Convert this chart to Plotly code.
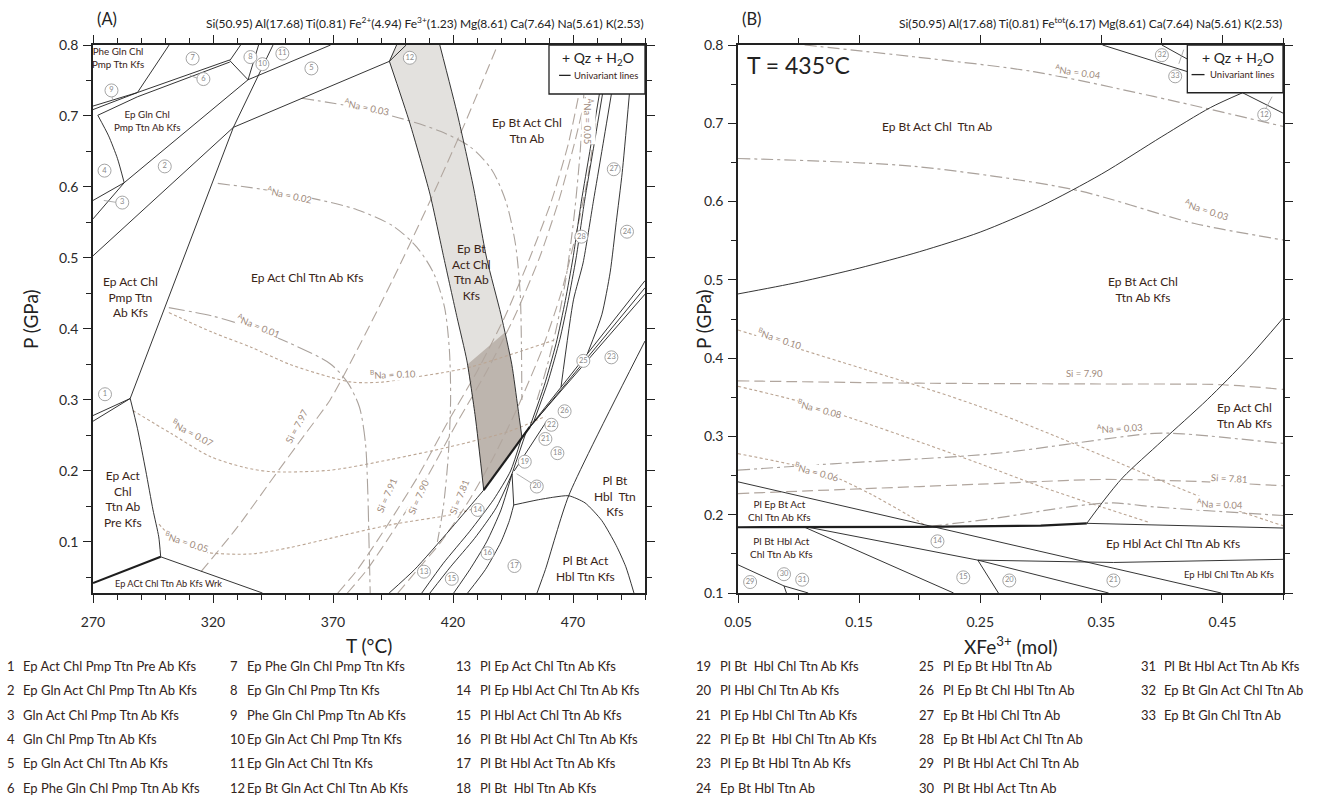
import plotly.graph_objects as go

W, H = 1334, 798
A_X0, A_X1 = 93, 645
B_X0, B_X1 = 738, 1283
Y_TOP, Y_BOT = 45, 593

# ---------------- Panel A data (T degC, P GPa) ----------------
A_T_RANGE = [270, 500]
A_P_RANGE = [0.028, 0.8]

A_L1a = [(270, 0.714), (288.5, 0.733), (327, 0.779)]
A_L1b = [(270, 0.709), (288.5, 0.733)]
A_L2 = [(272, 0.701), (288.5, 0.727), (327, 0.776)]
A_TOPL = [(301.7, 0.8), (288.5, 0.733)]
A_K = [(272, 0.701), (276.5, 0.672), (280.2, 0.640), (283, 0.606)]
A_43 = [(270, 0.581), (283, 0.606)]
A_M1 = [(270, 0.555), (283, 0.606), (334.6, 0.751)]
A_J1J2 = [(327, 0.778), (334.6, 0.751)]
A_J1TOP = [(327, 0.778), (331.5, 0.8)]
A_J2TOP = [(334.6, 0.751), (339, 0.8)]
A_J2R = [(334.6, 0.751), (369, 0.8)]
A_S = [(285.5, 0.302), (328.5, 0.684), (345, 0.8)]
A_M2 = [(270, 0.503), (328.5, 0.684)]
A_M3 = [(328.5, 0.684), (393.5, 0.777)]
A_12a = [(393.5, 0.777), (396.5, 0.8)]
A_12b = [(393.5, 0.777), (400.5, 0.8)]
A_BL = [(393.5, 0.777), (402, 0.69), (410.4, 0.59), (416.2, 0.5), (421.7, 0.416),
        (425.8, 0.355), (429.3, 0.276), (432.8, 0.173)]
A_BR = [(414.5, 0.8), (422, 0.7), (428.5, 0.6), (434, 0.5), (440, 0.42),
        (444.5, 0.35), (447, 0.29), (448.7, 0.248)]
A_BAND_TOP = [(396.5, 0.8), (414.5, 0.8)]
A_DARK = [(426.0, 0.35), (441.6, 0.395), (444.5, 0.35), (447, 0.29), (448.7, 0.248),
          (432.8, 0.173), (429.3, 0.276), (426.0, 0.35)]
A_THICK = [(432.8, 0.173), (448.7, 0.248), (452, 0.262)]
A_B1 = [(448.7, 0.248), (500, 0.468)]
A_B2 = [(450.5, 0.255), (500, 0.458)]
A_B3 = [(452, 0.262), (500, 0.449)]
A_S1 = [(452, 0.262), (458, 0.32), (463, 0.38), (466.8, 0.44), (470, 0.5),
        (473.5, 0.58), (477, 0.65), (481, 0.731)]
A_S2 = [(453.5, 0.268), (459.5, 0.325), (464.5, 0.385), (468, 0.44), (471.3, 0.5),
        (474.8, 0.58), (478.3, 0.65), (482.3, 0.731)]
A_S3 = [(465, 0.318), (470.2, 0.441), (474.2, 0.493), (478.5, 0.58), (482, 0.65), (486, 0.731)]
A_S4 = [(476, 0.365), (482, 0.42), (485.5, 0.48), (488, 0.55), (490.5, 0.62), (493.5, 0.731)]
A_D1 = [(455, 0.028), (458.5, 0.061), (468.2, 0.165), (500, 0.383)]
A_DOME = [(445.3, 0.152), (455, 0.159), (462, 0.163), (468.2, 0.165), (475, 0.155),
          (482, 0.13), (488, 0.095), (492, 0.065), (495.4, 0.028)]
A_V = [(445.3, 0.152), (444.6, 0.196)]
A_F13 = [(393.4, 0.028), (404, 0.061), (418.7, 0.117), (432.8, 0.173)]
A_F2 = [(407, 0.028), (416, 0.07), (427, 0.115), (437, 0.16), (444, 0.2), (448.7, 0.248)]
A_F3 = [(410.4, 0.028), (419, 0.065), (429, 0.105), (438, 0.148), (444.6, 0.196)]
A_F4 = [(420.3, 0.028), (427, 0.061), (434, 0.1), (440, 0.145), (444.6, 0.196)]
A_F5 = [(426.1, 0.028), (433.5, 0.061), (440, 0.1), (443.5, 0.13), (445.3, 0.152)]
A_G1 = [(444.6, 0.196), (450.5, 0.255)]
A_G2 = [(445.5, 0.2), (455, 0.25), (459, 0.27)]
A_PRE = [(285.5, 0.302), (288.5, 0.26), (292, 0.2), (295, 0.145), (297.4, 0.107), (298.2, 0.079)]
A_WRK_THICK = [(270, 0.042), (298.2, 0.079)]
A_WRK = [(298.2, 0.079), (340.6, 0.028)]
A_1a = [(270, 0.278), (285.5, 0.302)]
A_1b = [(270, 0.270), (285.5, 0.302)]
A_LEADERS = [
    [(280.3, 0.578), (274.5, 0.581)],
    [(313.6, 0.753), (310.5, 0.757)],
    [(277.8, 0.729), (278.3, 0.721)],
    [(452.6, 0.183), (446.5, 0.196)],
]

# isopleths panel A
A_aNa003 = [(357, 0.725), (380, 0.712), (400, 0.695), (415, 0.678), (427, 0.657), (436, 0.625),
            (442, 0.58), (446, 0.52), (448, 0.45), (448.5, 0.38), (448.7, 0.3)]
A_aNa002 = [(322, 0.605), (340, 0.597), (360, 0.585), (380, 0.568), (395, 0.545), (405, 0.515),
            (412, 0.478), (416.5, 0.43), (418.5, 0.37), (419, 0.3), (418, 0.22), (416, 0.15), (413.5, 0.1)]
A_aNa001 = [(301.6, 0.43), (320, 0.418), (335.6, 0.402), (352, 0.38), (368.8, 0.351), (376, 0.325),
            (381, 0.29), (383.5, 0.24), (384.5, 0.17), (385, 0.1), (385.5, 0.028)]
A_aNa005 = [(474.5, 0.73), (473, 0.65), (470.5, 0.56), (467, 0.47), (463, 0.4), (459, 0.345), (455, 0.3)]
A_Si797 = [(315, 0.058), (330, 0.12), (345, 0.19), (358, 0.25), (368.8, 0.3), (380, 0.37),
           (395, 0.47), (410.4, 0.58), (425, 0.69), (438.6, 0.8)]
A_Si791 = [(372, 0.028), (380, 0.06), (392, 0.12), (405, 0.19), (418, 0.27), (430, 0.34),
           (442, 0.42), (452, 0.5), (461, 0.58), (468, 0.66), (472.5, 0.731)]
A_Si790 = [(376, 0.028), (384, 0.06), (396, 0.12), (409, 0.19), (422, 0.27), (434, 0.34),
           (446, 0.42), (456, 0.5), (464, 0.58), (470.5, 0.66), (475.5, 0.731)]
A_Si781 = [(397, 0.028), (405, 0.06), (415, 0.1), (427, 0.16), (437, 0.22), (447, 0.29),
           (457, 0.37), (465, 0.45), (471, 0.53), (476, 0.61), (479.5, 0.69)]
A_bNa010 = [(301.6, 0.423), (320, 0.395), (336, 0.374), (352, 0.35), (369, 0.332), (378, 0.325),
            (390, 0.325), (402, 0.331), (415, 0.338), (427, 0.346), (445, 0.365), (462, 0.384)]
A_bNa007 = [(286.6, 0.285), (302.4, 0.253), (319, 0.22), (333, 0.205), (343.9, 0.199), (368.8, 0.201),
            (393.8, 0.216), (418.7, 0.234), (443.6, 0.256), (458.5, 0.277)]
A_bNa005 = [(297.5, 0.125), (305, 0.1), (315.7, 0.086), (335.6, 0.083), (352, 0.092), (368.8, 0.105),
            (393.8, 0.124), (418.7, 0.138), (430, 0.148)]

A_ISO_LABELS = [
    ("<sup>A</sup>Na = 0.03", 383.8, 0.713, 12),
    ("<sup>A</sup>Na = 0.02", 352, 0.59, 12),
    ("<sup>A</sup>Na = 0.01", 339, 0.405, 22),
    ("<sup>B</sup>Na = 0.10", 395, 0.337, -2),
    ("<sup>B</sup>Na = 0.07", 311.5, 0.254, 28),
    ("<sup>B</sup>Na = 0.05", 309, 0.1, 18),
    ("Si = 7.97", 355, 0.262, -62),
    ("Si = 7.91", 392.5, 0.165, -66),
    ("Si = 7.90", 405.5, 0.163, -66),
    ("Si = 7.81", 422.5, 0.163, -68),
    ("<sup>A</sup>Na = 0.05", 476.3, 0.693, 90),
]
A_FIELDS = [
    ("Phe Gln Chl<br>Pmp Ttn Kfs", 280.5, 0.783, 9.8),
    ("Ep Gln Chl<br>Pmp Ttn Ab Kfs", 292.5, 0.694, 9.8),
    ("Ep Act Chl<br>Pmp Ttn<br>Ab Kfs", 285.5, 0.445, 12),
    ("Ep Act Chl Ttn Ab Kfs", 359, 0.473, 12),
    ("Ep Bt<br>Act Chl<br>Ttn Ab<br>Kfs", 427.5, 0.48, 12),
    ("Ep Bt Act Chl<br>Ttn Ab", 451, 0.68, 12),
    ("Ep Act<br>Chl<br>Ttn Ab<br>Pre Kfs", 282.5, 0.16, 12),
    ("Ep ACt Chl Ttn Ab Kfs Wrk", 301.5, 0.041, 9.2),
    ("Pl Bt<br>Hbl  Ttn<br>Kfs", 487.5, 0.165, 12),
    ("Pl Bt Act<br>Hbl Ttn Kfs", 475, 0.063, 12),
]
A_CIRC_N = list(range(1, 29))
A_CIRC_T = [275, 299.9, 282.2, 274.8, 361, 316, 311.5, 335.6, 277.7, 340.6, 348.9, 402, 407.9, 430.3,
            419.5, 434.4, 445.6, 463.5, 449.9, 454.9, 458.5, 461, 486, 492.5, 474.3, 466.5, 487, 473.5]
A_CIRC_P = [0.308, 0.629, 0.578, 0.623, 0.767, 0.752, 0.781, 0.783, 0.736, 0.773, 0.788, 0.782, 0.058,
            0.145, 0.048, 0.084, 0.066, 0.225, 0.213, 0.178, 0.245, 0.265, 0.36, 0.537, 0.355, 0.284,
            0.625, 0.53]

# ---------------- Panel B data (XFe3+, P GPa) ----------------
B_X_RANGE = [0.05, 0.5]
B_P_RANGE = [0.1, 0.8]
B_C1 = [(0.05, 0.482), (0.10, 0.497), (0.15, 0.515), (0.20, 0.536), (0.25, 0.561), (0.30, 0.594),
        (0.35, 0.635), (0.40, 0.683), (0.44, 0.72), (0.4666, 0.739)]
B_TOP1 = [(0.351, 0.8), (0.421, 0.766)]
B_TOP2 = [(0.40, 0.8), (0.421, 0.782)]
B_12a = [(0.4666, 0.739), (0.5, 0.713)]
B_C2 = [(0.338, 0.189), (0.353, 0.22), (0.368, 0.248), (0.40, 0.294), (0.4375, 0.347),
        (0.47, 0.398), (0.5, 0.451)]
B_BOLD = [(0.05, 0.184), (0.20, 0.1845), (0.30, 0.186), (0.338, 0.189)]
B_H1 = [(0.338, 0.189), (0.40, 0.187), (0.45, 0.185), (0.5, 0.183)]
B_14 = [(0.05, 0.242), (0.449, 0.1)]
B_15 = [(0.105, 0.184), (0.228, 0.1)]
B_20 = [(0.108, 0.184), (0.248, 0.142), (0.356, 0.1)]
B_20b = [(0.248, 0.142), (0.265, 0.1)]
B_H2 = [(0.248, 0.142), (0.36, 0.139), (0.5, 0.143)]
B_29 = [(0.05, 0.136), (0.088, 0.109), (0.108, 0.1)]
B_30 = [(0.088, 0.109), (0.09, 0.1)]
B_LEADERS = [
    [(0.4855, 0.718), (0.491, 0.734)],
    [(0.418, 0.794), (0.414, 0.776)],
]
B_bNa010 = [(0.05, 0.436), (0.10, 0.412), (0.15, 0.388), (0.20, 0.364), (0.25, 0.338), (0.30, 0.308),
            (0.35, 0.276), (0.40, 0.243), (0.45, 0.212), (0.50, 0.186)]
B_bNa008 = [(0.05, 0.364), (0.10, 0.345), (0.15, 0.32), (0.20, 0.293), (0.25, 0.265), (0.30, 0.236),
            (0.35, 0.21), (0.39, 0.19)]
B_bNa006 = [(0.05, 0.278), (0.10, 0.262), (0.13, 0.248), (0.16, 0.226), (0.19, 0.2), (0.205, 0.186)]
B_Si790 = [(0.05, 0.371), (0.20, 0.368), (0.35, 0.367), (0.45, 0.366), (0.5, 0.36)]
B_Si781 = [(0.05, 0.227), (0.15, 0.233), (0.25, 0.239), (0.35, 0.245), (0.42, 0.243), (0.5, 0.237)]
B_aNa003lo = [(0.05, 0.257), (0.128, 0.265), (0.261, 0.278), (0.394, 0.304), (0.42, 0.303), (0.5, 0.291)]
B_aNa004lo = [(0.208, 0.185), (0.26, 0.195), (0.328, 0.211), (0.36, 0.215), (0.394, 0.21), (0.5, 0.199)]
B_aNa004hi = [(0.105, 0.8), (0.195, 0.785), (0.294, 0.766), (0.394, 0.734), (0.5, 0.696)]
B_aNa003hi = [(0.05, 0.655), (0.195, 0.645), (0.328, 0.615), (0.427, 0.572), (0.5, 0.551)]
B_ISO_LABELS = [
    ("<sup>A</sup>Na = 0.04", 0.331, 0.766, 8),
    ("<sup>A</sup>Na = 0.03", 0.437, 0.59, 18),
    ("<sup>B</sup>Na = 0.10", 0.085, 0.425, 18),
    ("Si = 7.90", 0.336, 0.381, 0),
    ("<sup>B</sup>Na = 0.08", 0.118, 0.336, 15),
    ("<sup>A</sup>Na = 0.03", 0.365, 0.312, -3),
    ("<sup>B</sup>Na = 0.06", 0.115, 0.255, 15),
    ("Si = 7.81", 0.456, 0.246, 3),
    ("<sup>A</sup>Na = 0.04", 0.448, 0.214, 2),
]
B_FIELDS = [
    ("Ep Bt Act Chl  Ttn Ab", 0.215, 0.696, 12),
    ("Ep Bt Act Chl<br>Ttn Ab Kfs", 0.384, 0.488, 12),
    ("Ep Act Chl<br>Ttn Ab Kfs", 0.468, 0.327, 12),
    ("Pl Ep Bt Act<br>Chl Ttn Ab Kfs", 0.084, 0.205, 10),
    ("Pl Bt Hbl Act<br>Chl Ttn Ab Kfs", 0.086, 0.158, 10),
    ("Ep Hbl Act Chl Ttn Ab Kfs", 0.409, 0.163, 12),
    ("Ep Hbl Chl Ttn Ab Kfs", 0.455, 0.124, 9.5),
]
B_CIRC_N = [12, 14, 15, 20, 21, 29, 30, 31, 32, 33]
B_CIRC_X = [0.4845, 0.2147, 0.236, 0.274, 0.36, 0.06, 0.088, 0.103, 0.40, 0.411]
B_CIRC_P = [0.711, 0.166, 0.12, 0.116, 0.116, 0.114, 0.124, 0.117, 0.787, 0.760]

LEGEND_ITEMS = [
    "Ep Act Chl Pmp Ttn Pre Ab Kfs", "Ep Gln Act Chl Pmp Ttn Ab Kfs", "Gln Act Chl Pmp Ttn Ab Kfs",
    "Gln Chl Pmp Ttn Ab Kfs", "Ep Gln Act Chl Ttn Ab Kfs", "Ep Phe Gln Chl Pmp Ttn Ab Kfs",
    "Ep Phe Gln Chl Pmp Ttn Kfs", "Ep Gln Chl Pmp Ttn Kfs", "Phe Gln Chl Pmp Ttn Ab Kfs",
    "Ep Gln Act Chl Pmp Ttn Kfs", "Ep Gln Act Chl Ttn Kfs", "Ep Bt Gln Act Chl Ttn Ab Kfs",
    "Pl Ep Act Chl Ttn Ab Kfs", "Pl Ep Hbl Act Chl Ttn Ab Kfs", "Pl Hbl Act Chl Ttn Ab Kfs",
    "Pl Bt Hbl Act Chl Ttn Ab Kfs", "Pl Bt Hbl Act Ttn Ab Kfs", "Pl Bt  Hbl Ttn Ab Kfs",
    "Pl Bt  Hbl Chl Ttn Ab Kfs", "Pl Hbl Chl Ttn Ab Kfs", "Pl Ep Hbl Chl Ttn Ab Kfs",
    "Pl Ep Bt  Hbl Chl Ttn Ab Kfs", "Pl Ep Bt Hbl Ttn Ab Kfs", "Ep Bt Hbl Ttn Ab",
    "Pl Ep Bt Hbl Ttn Ab", "Pl Ep Bt Chl Hbl Ttn Ab", "Ep Bt Hbl Chl Ttn Ab",
    "Ep Bt Hbl Act Chl Ttn Ab", "Pl Bt Hbl Act Chl Ttn Ab", "Pl Bt Hbl Act Ttn Ab",
    "Pl Bt Hbl Act Ttn Ab Kfs", "Ep Bt Gln Act Chl Ttn Ab", "Ep Bt Gln Chl Ttn Ab",
]
A_COMP = ("Si(50.95) Al(17.68) Ti(0.81) Fe<sup>2+</sup>(4.94) Fe<sup>3+</sup>(1.23) "
          "Mg(8.61) Ca(7.64) Na(5.61) K(2.53)")
B_COMP = ("Si(50.95) Al(17.68) Ti(0.81) Fe<sup>tot</sup>(6.17) "
          "Mg(8.61) Ca(7.64) Na(5.61) K(2.53)")

# ---------------- styles ----------------
FONT = "Lato, Open Sans, sans-serif"
LINE = "#1e1e1e"
ISO_B = "#bba593"
ISO_A = "#aaa29c"
ISO_SI = "#b1a69e"
ISO_TXT = "#a08b7d"
FIELD = "#3a2417"
CIRC = "#9b9b9b"
DOT = "3px,2.5px"
DASHDOT = "12px,4px,3px,4px"
LDASHDOT = "16px,4px,3px,4px"
LDASH = "11px,5px"

fig = go.Figure()


def xy(pts):
    return [p[0] for p in pts], [p[1] for p in pts]


def add_line(pts, ax, color=LINE, width=0.9, dash="solid", shape="linear", smooth=0.0):
    x, y = xy(pts)
    ln = dict(color=color, width=width, dash=dash, shape=shape)
    if shape == "spline":
        ln["smoothing"] = smooth
    fig.add_trace(go.Scatter(x=x, y=y, xaxis=ax[0], yaxis=ax[1], mode="lines", line=ln,
                             hoverinfo="skip", showlegend=False))


def add_fill(pts, ax, color):
    x, y = xy(pts)
    fig.add_trace(go.Scatter(x=x, y=y, xaxis=ax[0], yaxis=ax[1], mode="lines", fill="toself",
                             fillcolor=color, line=dict(width=0), hoverinfo="skip", showlegend=False))


AXA = ("x", "y")
AXB = ("x2", "y2")

band = A_BAND_TOP + A_BR[1:] + A_BL[::-1] + [A_BAND_TOP[0]]
add_fill(band, AXA, "#e3e1de")
add_fill(A_DARK, AXA, "#bdb5ae")

for pts in (A_bNa010, A_bNa007, A_bNa005):
    add_line(pts, AXA, ISO_B, 1.1, DOT, "spline", 0.8)
for pts in (A_Si797, A_Si791, A_Si790, A_Si781):
    add_line(pts, AXA, ISO_SI, 1.1, LDASH, "spline", 0.6)
for pts in (A_aNa003, A_aNa002, A_aNa005):
    add_line(pts, AXA, ISO_A, 1.1, DASHDOT, "spline", 0.8)
add_line(A_aNa001, AXA, ISO_A, 1.1, LDASHDOT, "spline", 0.8)

for pts in (A_L1a, A_L1b, A_L2, A_TOPL, A_43, A_M1, A_J1J2, A_J1TOP, A_J2TOP, A_J2R, A_S, A_M2,
            A_M3, A_12a, A_12b, A_B1, A_B2, A_B3, A_WRK, A_1a, A_1b, A_V, A_G1, A_G2):
    add_line(pts, AXA)
for pts in (A_K, A_BL, A_BR, A_S1, A_S2, A_S3, A_S4, A_D1, A_DOME, A_F13, A_F2, A_F3, A_F4, A_F5, A_PRE):
    add_line(pts, AXA, shape="spline", smooth=0.6)
add_line(A_THICK, AXA, LINE, 2.2)
add_line(A_WRK_THICK, AXA, LINE, 2.2)
for pts in A_LEADERS:
    add_line(pts, AXA, CIRC, 0.8)

for pts in (B_bNa010, B_bNa008, B_bNa006):
    add_line(pts, AXB, ISO_B, 1.1, DOT, "spline", 0.8)
for pts in (B_Si790, B_Si781):
    add_line(pts, AXB, ISO_SI, 1.2, LDASH, "spline", 0.8)
for pts in (B_aNa003lo, B_aNa004lo, B_aNa004hi, B_aNa003hi):
    add_line(pts, AXB, ISO_A, 1.2, DASHDOT, "spline", 0.8)

for pts in (B_TOP1, B_TOP2, B_12a, B_H1, B_14, B_15, B_20, B_20b, B_H2, B_29, B_30):
    add_line(pts, AXB)
for pts in (B_C1, B_C2):
    add_line(pts, AXB, shape="spline", smooth=0.8)
add_line(B_BOLD, AXB, LINE, 2.2)
for pts in B_LEADERS:
    add_line(pts, AXB, CIRC, 0.8)

for xs, ys, ns, ax in ((A_CIRC_T, A_CIRC_P, A_CIRC_N, AXA), (B_CIRC_X, B_CIRC_P, B_CIRC_N, AXB)):
    fig.add_trace(go.Scatter(x=xs, y=ys, xaxis=ax[0], yaxis=ax[1], mode="markers+text",
                             text=[str(n) for n in ns], textposition="middle center",
                             textfont=dict(family=FONT, size=7.5, color="#8a8a8a"),
                             marker=dict(symbol="circle", size=13, color="white",
                                         line=dict(color=CIRC, width=0.9)),
                             hoverinfo="skip", showlegend=False))

ann = []


def add_text(text, x, y, xref, yref, size, color, angle=0, xanchor="center", yanchor="middle", bg=None):
    d = dict(text=text, x=x, y=y, xref=xref, yref=yref, showarrow=False, textangle=angle,
             xanchor=xanchor, yanchor=yanchor, font=dict(family=FONT, size=size, color=color),
             borderpad=0)
    if bg:
        d["bgcolor"] = bg
    ann.append(d)


def pxp(x):
    return x / W


def pyp(y):
    return 1 - y / H


for t, x, y, a in A_ISO_LABELS:
    add_text(t, x, y, "x", "y", 9.5, ISO_TXT, a, bg="white")
for t, x, y, s in A_FIELDS:
    add_text(t, x, y, "x", "y", s, FIELD)
for t, x, y, a in B_ISO_LABELS:
    add_text(t, x, y, "x2", "y2", 9.5, ISO_TXT, a, bg="white")
for t, x, y, s in B_FIELDS:
    add_text(t, x, y, "x2", "y2", s, FIELD)
add_text("T = 435°C", 0.0565, 0.775, "x2", "y2", 23, "#222222", xanchor="left")

shapes = []
for xr, yr, x0, x1, y0, y1, lx0, lx1, tx, qx in (
        ("x", "y", 460, 500, 0.731, 0.8, 464.2, 469.0, 470.2, 480.5),
        ("x2", "y2", 0.421, 0.5, 0.739, 0.8, 0.4245, 0.4352, 0.4385, 0.4625)):
    shapes.append(dict(type="rect", xref=xr, yref=yr, x0=x0, x1=x1, y0=y0, y1=y1,
                       fillcolor="white", line=dict(color="#222222", width=1.3), layer="above"))
    ym = y0 + (y1 - y0) * 0.38
    shapes.append(dict(type="line", xref=xr, yref=yr, x0=lx0, x1=lx1, y0=ym, y1=ym,
                       line=dict(color="#222222", width=1.3), layer="above"))
    add_text("Univariant lines", tx, ym, xr, yr, 9.5, FIELD, xanchor="left")
    add_text("+ Qz + H<sub>2</sub>O", qx, y0 + (y1 - y0) * 0.72, xr, yr, 14, "#222222")

add_text("(A)", pxp(A_X0 + 3), pyp(19), "paper", "paper", 16.5, "#222222", xanchor="left")
add_text("(B)", pxp(B_X0 + 3), pyp(19), "paper", "paper", 16.5, "#222222", xanchor="left")
add_text(A_COMP, pxp(A_X1), pyp(23), "paper", "paper", 12, "#222222", xanchor="right")
add_text(B_COMP, pxp(B_X1), pyp(23), "paper", "paper", 12, "#222222", xanchor="right")

add_text("P (GPa)", pxp(30), pyp((Y_TOP + Y_BOT) / 2), "paper", "paper", 19, "#222222", angle=-90)
add_text("P (GPa)", pxp(703), pyp((Y_TOP + Y_BOT) / 2), "paper", "paper", 19, "#222222", angle=-90)
add_text("T (°C)", pxp((A_X0 + A_X1) / 2), pyp(645), "paper", "paper", 19, "#222222")
add_text("XFe<sup>3+</sup> (mol)", pxp((B_X0 + B_X1) / 2), pyp(645), "paper", "paper", 19, "#222222")

COL_X = [(6, 22), (229, 246), (455, 479), (695, 719), (918, 942), (1140, 1163)]
for i, item in enumerate(LEGEND_ITEMS):
    c, r = divmod(i, 6)
    yy = pyp(666 + 24.3 * r)
    add_text(str(i + 1), pxp(COL_X[c][0]), yy, "paper", "paper", 13, "#33241b", xanchor="left")
    add_text(item, pxp(COL_X[c][1]), yy, "paper", "paper", 13, "#33241b", xanchor="left")


def axis(domain, rng, tick0, dtick, minor_dtick, fmt, anchor, standoff):
    return dict(domain=domain, range=rng, tick0=tick0, dtick=dtick, tickformat=fmt,
                ticks="outside", ticklen=8, tickwidth=1.2, tickcolor="#222222",
                showline=True, linecolor="#222222", linewidth=1.5, mirror="ticks",
                showgrid=False, zeroline=False, anchor=anchor, automargin=False,
                ticklabelstandoff=standoff,
                tickfont=dict(family=FONT, size=14, color="#2a2a2a"),
                minor=dict(dtick=minor_dtick, tick0=tick0, ticklen=5, tickwidth=1.1,
                           tickcolor="#222222", ticks="outside", showgrid=False))


ydom = [1 - Y_BOT / H, 1 - Y_TOP / H]
fig.update_layout(
    width=W, height=H, margin=dict(l=0, r=0, t=0, b=0, autoexpand=False),
    paper_bgcolor="white", plot_bgcolor="white", showlegend=False,
    font=dict(family=FONT),
    xaxis=axis([A_X0 / W, A_X1 / W], A_T_RANGE, 270, 50, 10, "d", "y", 7),
    yaxis=axis(ydom, A_P_RANGE, 0, 0.1, 0.05, ".1f", "x", 2),
    xaxis2=axis([B_X0 / W, B_X1 / W], B_X_RANGE, 0.05, 0.1, 0.05, ".2f", "y2", 7),
    yaxis2=axis(ydom, B_P_RANGE, 0.1, 0.1, 0.05, ".1f", "x2", 2),
    annotations=ann, shapes=shapes,
)

fig.write_html("out.html")
